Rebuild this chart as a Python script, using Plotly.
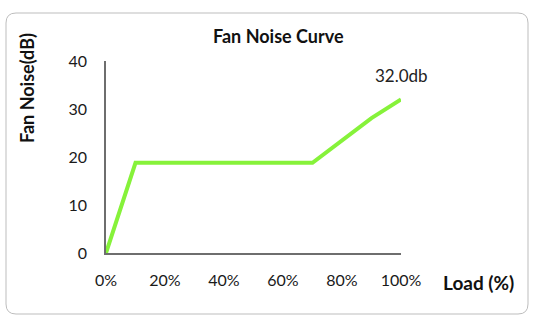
import plotly.graph_objects as go

load_pct = [0, 10, 70, 90, 100]
noise_db = [0, 18.8, 18.8, 28.1, 32.0]
y_ticks = [0, 10, 20, 30, 40]
x_ticks = [0, 20, 40, 60, 80, 100]
x_tick_labels = ["0%", "20%", "40%", "60%", "80%", "100%"]
end_label = "32.0db"

W, H = 550, 330
L, R, T, B = 106, 149, 61, 77
pw, ph = W - L - R, H - T - B

def px(x):
    return (x - L) / pw

def py(y):
    return (H - B - y) / ph

FONT = "Lato"

fig = go.Figure()
fig.add_trace(go.Scatter(
    x=load_pct, y=noise_db, mode="lines",
    line=dict(color="#86F23A", width=4),
    hoverinfo="skip", showlegend=False,
))

# rounded border box
x0, x1, y0, y1, r = 6, 528, 13, 314, 10
path = (
    f"M {px(x0 + r)},{py(y0)} L {px(x1 - r)},{py(y0)} "
    f"Q {px(x1)},{py(y0)} {px(x1)},{py(y0 + r)} "
    f"L {px(x1)},{py(y1 - r)} Q {px(x1)},{py(y1)} {px(x1 - r)},{py(y1)} "
    f"L {px(x0 + r)},{py(y1)} Q {px(x0)},{py(y1)} {px(x0)},{py(y1 - r)} "
    f"L {px(x0)},{py(y0 + r)} Q {px(x0)},{py(y0)} {px(x0 + r)},{py(y0)} Z"
)
fig.add_shape(type="path", path=path, xref="paper", yref="paper",
              line=dict(color="#BDBDBD", width=1), layer="below")

fig.add_annotation(x=load_pct[-1], y=noise_db[-1], text=end_label, showarrow=False,
                   xanchor="center", yanchor="middle",
                   yshift=24, font=dict(family=FONT, size=17, color="#222"))
fig.add_annotation(x=px(278), y=py(36), xref="paper", yref="paper", text="<b>Fan Noise Curve</b>",
                   xanchor="center", yanchor="middle",
                   showarrow=False, font=dict(family=FONT, size=18, color="#111"))
fig.add_annotation(x=px(27), y=py(88), xref="paper", yref="paper", text="<b>Fan Noise(dB)</b>",
                   xanchor="center", yanchor="middle",
                   textangle=-90, showarrow=False, font=dict(family=FONT, size=18, color="#111"))
fig.add_annotation(x=px(478), y=py(282), xref="paper", yref="paper", text="<b>Load (%)</b>",
                   xanchor="center", yanchor="middle",
                   showarrow=False, font=dict(family=FONT, size=19, color="#111"))

fig.update_layout(
    width=W, height=H,
    margin=dict(l=L, r=R, t=T, b=B, pad=0),
    paper_bgcolor="white", plot_bgcolor="white",
    font=dict(family=FONT, size=16, color="#1a1a1a"),
    xaxis=dict(range=[0, 100], tickvals=x_ticks, ticktext=x_tick_labels,
               showgrid=False, zeroline=False, showline=True,
               linecolor="#6E6E6E", linewidth=1.5,
               ticks="outside", ticklen=12, tickcolor="rgba(0,0,0,0)",
               fixedrange=True),
    yaxis=dict(range=[0, 40], tickvals=y_ticks,
               showgrid=False, zeroline=False, showline=True,
               linecolor="#6E6E6E", linewidth=1.5,
               ticks="outside", ticklen=14, tickcolor="rgba(0,0,0,0)",
               fixedrange=True),
)

fig.write_html("out.html", config={"displayModeBar": False})
